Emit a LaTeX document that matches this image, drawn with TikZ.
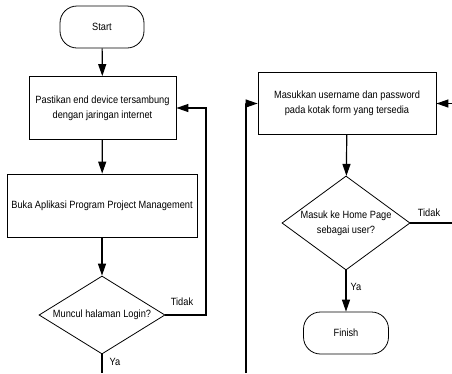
\documentclass[tikz,border=0pt]{standalone}
\usepackage{fontspec}
\setmainfont[FakeStretch=0.88]{Liberation Sans}
\usetikzlibrary{shapes.geometric,arrows.meta}
\begin{document}
\begin{tikzpicture}
  [x=1pt,y=-1pt,
   every node/.style={draw=black,line width=.8pt,align=center,inner sep=1pt,font=\fontsize{10.5}{15}\selectfont},
   term/.style={rounded corners=17pt,minimum width=84pt,minimum height=42pt},
   proc/.style={rectangle,minimum height=63pt},
   decide/.style={diamond,aspect=1.5,inner sep=0pt},
   lbl/.style={draw=none,inner sep=0pt},
   arr/.style={-{Triangle[length=12pt,width=8pt]}},
   line width=1.2pt]
  \useasboundingbox (0,0) rectangle (452,373);

  \node[term] (start) at (102,27) {Start};
  \node[proc,minimum width=147pt] (p1) at (102.5,108) {Pastikan end device tersambung\\dengan jaringan internet};
  \node[proc,minimum width=190pt] (p2) at (102,205.5) {Buka Aplikasi Program Project Management};
  \node[decide,minimum width=126pt,minimum height=78pt] (d1) at (102,315) {Muncul halaman Login?};

  \node[proc,minimum width=178pt,minimum height=62pt] (p3) at (347,103.5) {Masukkan username dan password\\pada kotak form yang tersedia};
  \node[decide,minimum width=125pt,minimum height=94pt] (d2) at (346,223) {Masuk ke Home Page\\sebagai user?};
  \node[term,minimum width=85pt] (finish) at (346,333) {Finish};

  \coordinate (c1) at (102,373);
  \coordinate (k1) at (206,108);
  \coordinate (c2) at (246,373);
  \coordinate (c3) at (452,223);
  \coordinate (c4) at (452,103.5);

  \foreach \from/\to in {start/p1,p1/p2,p2/d1,p3/d2,d2/finish}
     \draw[arr] (\from) -- (\to);
  \draw (d1) -- (c1);
  \draw[arr] (d1.east) -| (k1) -- (p1.east);
  \draw[arr] (c2) |- (p3.west);
  \draw (d2.east) -- (c3);
  \draw[arr] (c4) -- (p3.east);

  \node[lbl] (ya1) at (115,362) {Ya};
  \node[lbl] (tidak1) at (182,302) {Tidak};
  \node[lbl] (ya2) at (356,287) {Ya};
  \node[lbl] (tidak2) at (429,213) {Tidak};
\end{tikzpicture}
\end{document}
